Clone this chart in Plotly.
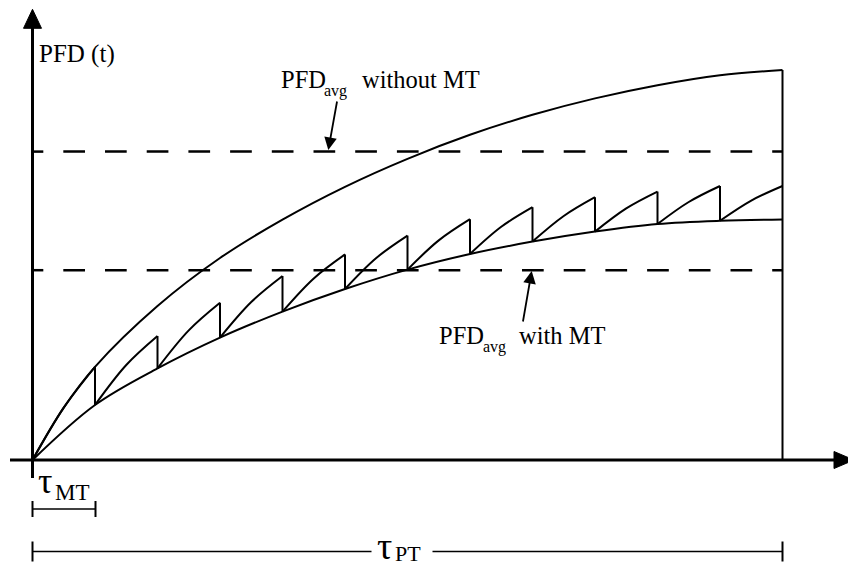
import plotly.graph_objects as go

# ---------------- data ----------------
# time in units of the maintenance-test interval tau_MT (proof test at 12 tau_MT)
t_upper = [0, 0.5, 1, 2, 3, 4, 5, 6, 7, 8, 9, 10, 11, 12]
pfd_without_mt = [0, 0.131, 0.233, 0.385, 0.505, 0.601, 0.683, 0.753, 0.813,
                  0.863, 0.904, 0.937, 0.962, 0.975]
t_mt = [0, 1, 2, 3, 4, 5, 6, 7, 8, 9, 10, 11, 12]
pfd_after_mt = [0, 0.1375, 0.229, 0.306, 0.371, 0.4275, 0.476, 0.515, 0.546,
                0.571, 0.59, 0.598, 0.601]
tooth_top = [0.233, 0.31, 0.393, 0.46, 0.514, 0.561, 0.602, 0.632, 0.657,
             0.671, 0.685, 0.685]
tooth_mid = [0.131, 0.2375, 0.324, 0.395, 0.454, 0.505, 0.549, 0.583, 0.610,
             0.629, 0.645, 0.6485]
pfd_avg_without_mt = 0.771
pfd_avg_with_mt = 0.4745
t_pt = 12

# ---------------- layout helpers ----------------
W, H = 848, 567
X0, XS = 32.5, 62.5     # pixel of t=0, pixels per tau_MT
Y0, YS = 460.0, 400.0   # pixel of PFD=0, pixels per PFD unit


def px(x):
    return x / W


def py(y):
    return 1 - y / H


BLACK = "#000000"
FONT = "Liberation Serif, Times New Roman, serif"

fig = go.Figure()

# upper curve (without MT)
fig.add_trace(go.Scatter(x=t_upper, y=pfd_without_mt, mode="lines",
                         line=dict(color=BLACK, width=2, shape="spline"),
                         hoverinfo="skip"))
# lower envelope (values right after each MT)
fig.add_trace(go.Scatter(x=t_mt, y=pfd_after_mt, mode="lines",
                         line=dict(color=BLACK, width=2, shape="spline"),
                         hoverinfo="skip"))
# saw-tooth segments
sx, sy = [], []
for k in range(len(tooth_top)):
    sx += [t_mt[k], t_mt[k] + 0.5, t_mt[k + 1], None]
    sy += [pfd_after_mt[k], tooth_mid[k], tooth_top[k], None]
fig.add_trace(go.Scatter(x=sx, y=sy, mode="lines", connectgaps=False,
                         line=dict(color=BLACK, width=2, shape="spline"),
                         hoverinfo="skip"))
# vertical drops at each MT
vx, vy = [], []
for k in range(1, len(tooth_top)):
    vx += [t_mt[k], t_mt[k], None]
    vy += [tooth_top[k - 1], pfd_after_mt[k], None]
fig.add_trace(go.Scatter(x=vx, y=vy, mode="lines", connectgaps=False,
                         line=dict(color=BLACK, width=2), hoverinfo="skip"))
# end of proof-test interval
fig.add_trace(go.Scatter(x=[t_pt, t_pt], y=[pfd_without_mt[-1], 0], mode="lines",
                         line=dict(color=BLACK, width=2), hoverinfo="skip"))
# average lines (dashed)
for lvl in (pfd_avg_without_mt, pfd_avg_with_mt):
    fig.add_trace(go.Scatter(x=[0, 0.173], y=[lvl, lvl], mode="lines",
                             line=dict(color=BLACK, width=2.5), hoverinfo="skip"))
    fig.add_trace(go.Scatter(x=[0.493, t_pt], y=[lvl, lvl], mode="lines",
                             line=dict(color=BLACK, width=2.5, dash="21.7px,20px"),
                             hoverinfo="skip"))

shapes = []
# y axis with arrow
shapes.append(dict(type="line", xref="paper", yref="paper",
                   x0=px(32.5), x1=px(32.5), y0=py(478), y1=py(26),
                   line=dict(color=BLACK, width=3)))
shapes.append(dict(type="path", xref="paper", yref="paper",
                   path=f"M {px(23.5)},{py(28.3)} L {px(32.5)},{py(9.3)} L {px(41.5)},{py(28.3)} Z",
                   fillcolor=BLACK, line=dict(color=BLACK, width=1)))
# x axis with arrow
shapes.append(dict(type="line", xref="paper", yref="paper",
                   x0=px(10), x1=px(838), y0=py(460), y1=py(460),
                   line=dict(color=BLACK, width=3)))
shapes.append(dict(type="path", xref="paper", yref="paper",
                   path=f"M {px(834)},{py(451.5)} L {px(854)},{py(460)} L {px(834)},{py(468.5)} Z",
                   fillcolor=BLACK, line=dict(color=BLACK, width=1)))
# tau_MT bracket
shapes.append(dict(type="line", xref="paper", yref="paper",
                   x0=px(32.5), x1=px(95.5), y0=py(509), y1=py(509),
                   line=dict(color=BLACK, width=1.5)))
for xx in (32.5, 95.5):
    shapes.append(dict(type="line", xref="paper", yref="paper",
                       x0=px(xx), x1=px(xx), y0=py(501), y1=py(517),
                       line=dict(color=BLACK, width=2)))
# tau_PT bracket
shapes.append(dict(type="line", xref="paper", yref="paper",
                   x0=px(32.5), x1=px(371.5), y0=py(551.5), y1=py(551.5),
                   line=dict(color=BLACK, width=1.5)))
shapes.append(dict(type="line", xref="paper", yref="paper",
                   x0=px(432.5), x1=px(782.5), y0=py(551.5), y1=py(551.5),
                   line=dict(color=BLACK, width=1.5)))
for xx in (32.5, 782.5):
    shapes.append(dict(type="line", xref="paper", yref="paper",
                       x0=px(xx), x1=px(xx), y0=py(541.5), y1=py(561.5),
                       line=dict(color=BLACK, width=2)))

ann = []


def text(x, y, s, size, anchor="left"):
    ann.append(dict(xref="paper", yref="paper", x=px(x), y=py(y), text=s,
                    showarrow=False, xanchor=anchor, yanchor="middle",
                    font=dict(family=FONT, size=size, color=BLACK)))


text(37, 54, "PFD (t)", 25)
text(279, 79, "PFD", 24.5)
text(322, 91, "avg", 16)
text(360, 79, "without MT", 24.5)
text(437, 335, "PFD", 24.5)
text(481, 347, "avg", 16)
text(517, 335, "with MT", 24.5)
text(36, 481, "τ", 36)
text(53, 492, "MT", 23)
text(375, 546, "τ", 38)
text(393, 553, "PT", 22)

# pointer arrows
ann.append(dict(xref="paper", yref="paper", x=px(328.3), y=py(150), ax=9, ay=-50,
                text="", showarrow=True, arrowhead=2, arrowsize=1.4, arrowwidth=1.8,
                arrowcolor=BLACK))
ann.append(dict(xref="paper", yref="paper", x=px(531.7), y=py(271), ax=-9, ay=52,
                text="", showarrow=True, arrowhead=2, arrowsize=1.4, arrowwidth=1.8,
                arrowcolor=BLACK))

fig.update_layout(
    width=W, height=H,
    margin=dict(l=0, r=0, t=0, b=0, pad=0),
    paper_bgcolor="white", plot_bgcolor="white",
    showlegend=False,
    xaxis=dict(range=[(0 - X0) / XS, (W - X0) / XS], visible=False, fixedrange=True),
    yaxis=dict(range=[(Y0 - H) / YS, Y0 / YS], visible=False, fixedrange=True),
    shapes=shapes, annotations=ann,
)

fig.write_html(
    "out.html",
    config={"displayModeBar": False, "staticPlot": True},
    post_script="document.body.style.margin='0px';document.body.style.padding='0px';"
                "document.body.style.overflow='hidden';",
)
